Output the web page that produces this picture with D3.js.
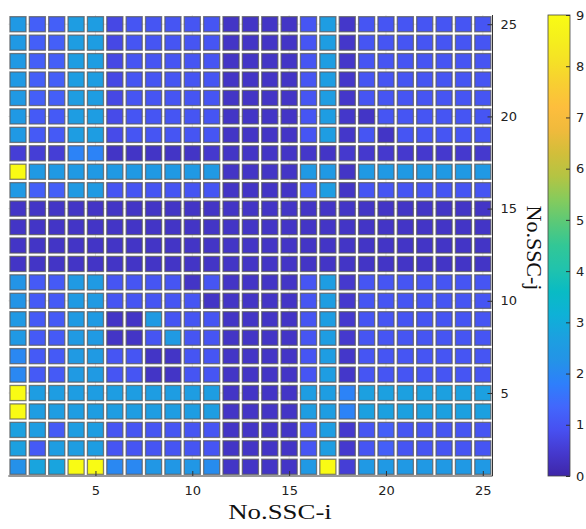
<!DOCTYPE html>
<html>
<head>
<meta charset="utf-8">
<script src="https://cdn.jsdelivr.net/npm/d3@7"></script>
<style>
  body { margin: 0; background: #fff; }
  svg { display: block; }
</style>
</head>
<body>
<div id="chart"></div>
<script>
// grid values, top row (j = 25) first, columns i = 1..25
const rowsTopDown = [
  [2.45,1.2,1.2,2.6,2.6,0.75,1.0,1.0,1.0,1.0,1.0,0.35,0.35,0.35,0.35,1.0,2.6,0.4,1.0,1.0,1.0,1.0,1.0,1.0,1.0],
  [2.45,1.2,1.2,2.6,2.6,0.75,1.0,1.0,1.0,1.0,1.0,0.35,0.35,0.35,0.35,1.0,2.6,0.4,1.0,1.0,1.0,1.0,1.0,1.0,1.0],
  [2.45,1.2,1.2,2.6,2.6,0.75,1.0,1.0,1.0,1.0,1.0,0.35,0.35,0.35,0.35,1.0,2.6,0.4,1.0,1.0,1.0,1.0,1.0,1.0,1.0],
  [2.45,1.2,1.2,2.6,2.6,0.75,1.0,1.0,1.0,1.0,1.0,0.35,0.35,0.35,0.35,1.0,2.6,0.4,1.0,1.0,1.0,1.0,1.0,1.0,1.0],
  [2.45,1.2,1.2,2.6,2.6,0.75,1.0,1.0,1.0,1.0,1.0,0.35,0.35,0.35,0.35,1.0,2.6,0.4,1.0,1.0,1.0,1.0,1.0,1.0,1.0],
  [2.45,1.1,1.1,2.6,2.6,0.8,1.0,1.0,1.0,1.0,1.0,0.35,0.35,0.35,0.35,1.0,2.6,0.4,0.35,1.0,1.0,1.0,1.0,1.0,1.0],
  [2.45,1.1,1.1,2.6,2.6,0.8,1.0,1.0,1.0,1.0,1.0,0.35,0.35,0.35,0.35,1.0,2.6,0.4,1.0,0.35,1.0,1.0,1.0,1.0,1.0],
  [0.55,0.55,0.55,1.9,1.9,0.35,0.35,0.35,0.35,0.35,0.45,0.35,0.35,0.35,0.35,0.4,0.35,0.45,0.45,0.45,0.45,0.45,0.45,0.45,0.45],
  [9,2.45,2.45,2.45,2.45,2.45,2.45,2.45,2.45,2.45,2.45,0.35,0.35,0.35,0.35,2.45,2.45,0.35,2.45,2.45,2.45,2.45,2.45,2.45,2.45],
  [2.45,1.2,1.2,2.5,2.5,1.0,1.0,1.0,1.0,1.0,1.0,0.35,0.35,0.35,0.35,1.0,2.6,0.35,1.0,1.0,1.0,1.0,1.0,1.0,1.0],
  [0.35,0.35,0.35,0.35,0.35,0.35,0.35,0.35,0.35,0.35,0.35,0.35,0.35,0.35,0.35,0.35,0.35,0.35,0.35,0.35,0.35,0.35,0.35,0.35,0.35],
  [0.35,0.35,0.35,0.35,0.35,0.35,0.35,0.35,0.35,0.35,0.35,0.35,0.35,0.35,0.35,0.35,0.35,0.35,0.35,0.35,0.35,0.35,0.35,0.35,0.35],
  [0.35,0.35,0.35,0.35,0.35,0.35,0.35,0.35,0.35,0.35,0.35,0.35,0.35,0.35,0.35,0.35,0.35,0.35,0.35,0.35,0.35,0.35,0.35,0.35,0.35],
  [0.35,0.35,0.35,0.35,0.35,0.35,0.35,0.35,0.35,0.35,0.35,0.35,0.35,0.35,0.35,0.35,0.35,0.35,0.35,0.35,0.35,0.35,0.35,0.35,0.35],
  [2.3,1.1,1.1,2.5,2.5,1.0,1.0,1.0,1.0,0.35,1.0,0.35,0.35,0.35,0.35,1.0,2.6,0.45,1.0,1.0,1.0,1.0,1.0,1.0,1.0],
  [2.3,1.1,1.1,2.5,2.5,1.0,1.0,1.0,1.0,1.0,0.35,0.35,0.35,0.35,0.35,1.0,2.6,0.45,1.0,1.0,1.0,1.0,1.0,1.0,1.0],
  [2.45,1.1,1.1,2.5,2.5,0.35,0.35,2.5,1.0,1.0,1.0,0.35,0.35,0.35,0.35,1.0,2.6,0.45,1.0,1.0,1.0,1.0,1.0,1.0,1.0],
  [2.45,1.1,1.1,2.5,2.5,0.35,0.35,1.0,2.5,1.0,1.0,0.35,0.35,0.35,0.35,1.0,2.6,0.45,1.0,1.0,1.0,1.0,1.0,1.0,1.0],
  [2.0,1.1,1.1,2.5,2.5,1.0,1.0,0.35,0.35,1.0,1.0,0.35,0.35,0.35,0.35,1.0,2.6,0.4,1.0,1.0,1.0,1.0,1.0,1.0,1.0],
  [2.0,1.1,1.1,2.5,2.5,1.0,1.0,0.35,0.35,1.0,1.0,0.35,0.35,0.35,0.35,1.0,2.6,0.4,1.0,1.0,1.0,1.0,1.0,1.0,1.0],
  [9,2.6,2.6,2.6,2.6,2.6,2.6,2.6,2.6,2.6,2.6,0.35,0.35,0.35,0.35,2.6,2.6,1.9,2.7,2.7,2.7,2.7,2.7,2.7,2.7],
  [9,2.6,2.6,2.6,2.6,2.6,2.6,2.6,2.6,2.6,2.6,0.35,0.35,0.35,0.35,2.6,2.6,1.9,2.7,2.7,2.7,2.7,2.7,2.7,2.7],
  [2.7,2.6,1.1,2.6,2.6,1.0,1.0,1.0,1.0,1.0,1.0,0.35,0.35,0.35,0.35,1.0,2.6,0.45,1.0,1.2,1.0,1.0,1.0,1.0,1.0],
  [2.7,1.1,2.6,2.6,2.6,1.0,1.0,1.0,1.0,1.0,1.0,0.35,0.35,0.35,0.35,1.0,2.6,0.45,1.0,1.2,1.0,1.0,1.0,1.0,1.0],
  [2.2,2.8,2.8,9,9,2.0,2.0,2.4,2.4,2.4,2.1,0.35,0.35,0.35,0.35,2.45,9,0.55,2.45,2.45,2.45,2.45,2.45,2.45,2.45]
];

const xTicks = [5, 10, 15, 20, 25];
const yTicks = [5, 10, 15, 20, 25];
const cbTicks = [0, 1, 2, 3, 4, 5, 6, 7, 8, 9];
const xLabel = "No.SSC-i";
const yLabel = "No.SSC-j";

// parula colour stops
const parulaStops = ["#3e26a8", "#4539ce", "#4750f1", "#4267fc", "#2e7ffb", "#2493e7",
  "#1ca0e0", "#0eb1d7", "#09bbc4", "#21c3ac", "#32c796", "#5ac978", "#86cb5c",
  "#b4c443", "#d2be3a", "#f0ba3c", "#fdbe3d", "#f8ce32", "#f5e126", "#f5f01c", "#f9fb14"];

const W = 586, H = 529;
const plot = { left: 8.3, right: 492.5, top: 15, bottom: 476 };
const vmax = 9;

const cells = [];
rowsTopDown.forEach((row, r) => {
  const j = rowsTopDown.length - r;
  row.forEach((v, c) => cells.push({ i: c + 1, j, v }));
});

const color = d3.scaleLinear()
  .domain(parulaStops.map((_, k) => k / (parulaStops.length - 1) * vmax))
  .range(parulaStops)
  .interpolate(d3.interpolateRgb)
  .clamp(true);

const svg = d3.select("#chart").append("svg")
  .attr("width", W)
  .attr("height", H);

svg.append("rect").attr("width", W).attr("height", H).attr("fill", "#fff");

const x = d3.scaleBand()
  .domain(d3.range(1, 26))
  .range([plot.left, plot.right])
  .paddingInner(0.17)
  .paddingOuter(0.085);

const y = d3.scaleBand()
  .domain(d3.range(25, 0, -1))
  .range([plot.top, plot.bottom])
  .paddingInner(0.18)
  .paddingOuter(0.09);

const xc = i => x(i) + x.bandwidth() / 2;
const yc = j => y(j) + y.bandwidth() / 2;

// grid lines
const grid = svg.append("g").attr("stroke", "#e3e3e3").attr("stroke-width", 1);
xTicks.forEach(t => grid.append("line")
  .attr("x1", xc(t)).attr("x2", xc(t))
  .attr("y1", plot.top).attr("y2", plot.bottom));
yTicks.forEach(t => grid.append("line")
  .attr("x1", plot.left).attr("x2", plot.right)
  .attr("y1", yc(t)).attr("y2", yc(t)));

svg.append("g")
  .selectAll("rect")
  .data(cells)
  .enter()
  .append("rect")
  .attr("x", d => x(d.i))
  .attr("y", d => y(d.j))
  .attr("width", x.bandwidth())
  .attr("height", y.bandwidth())
  .attr("fill", d => color(d.v))
  .attr("stroke", "#5a5a5a")
  .attr("stroke-opacity", 0.75)
  .attr("stroke-width", 1.3);

// axes
const tickFont = "DejaVu Sans, sans-serif";
const xScaleLin = d3.scaleLinear().domain([1, 25]).range([xc(1), xc(25)]);
const yScaleLin = d3.scaleLinear().domain([1, 25]).range([yc(1), yc(25)]);

const xAxis = svg.append("g")
  .attr("transform", `translate(0,${plot.bottom})`)
  .call(d3.axisBottom(xScaleLin).tickValues(xTicks).tickSizeInner(-5).tickSizeOuter(0).tickPadding(10));
xAxis.select(".domain").attr("d", `M${plot.left},0H${plot.right}`);

const yAxis = svg.append("g")
  .attr("transform", `translate(${plot.right},0)`)
  .call(d3.axisRight(yScaleLin).tickValues(yTicks).tickSizeInner(-5).tickSizeOuter(0).tickPadding(8));
yAxis.select(".domain").attr("d", `M0,${plot.top}V${plot.bottom}`);

[xAxis, yAxis].forEach(a => {
  a.select(".domain").attr("stroke", "#333").attr("stroke-width", 1);
  a.selectAll(".tick line").attr("stroke", "#333");
  a.selectAll(".tick text")
    .attr("font-family", tickFont)
    .attr("font-size", 13)
    .attr("fill", "#222");
});

// colorbar
const cb = { x: 548, w: 22, top: 15, bottom: 476 };
const cbScale = d3.scaleLinear().domain([0, vmax]).range([cb.bottom, cb.top]);

const grad = svg.append("defs").append("linearGradient")
  .attr("id", "cbgrad")
  .attr("x1", "0%").attr("y1", "100%")
  .attr("x2", "0%").attr("y2", "0%");

parulaStops.forEach((c, k) => {
  grad.append("stop")
    .attr("offset", `${k / (parulaStops.length - 1) * 100}%`)
    .attr("stop-color", c);
});

svg.append("rect")
  .attr("x", cb.x)
  .attr("y", cb.top)
  .attr("width", cb.w)
  .attr("height", cb.bottom - cb.top)
  .attr("fill", "url(#cbgrad)")
  .attr("stroke", "#444")
  .attr("stroke-width", 0.8);

const cbAxis = svg.append("g")
  .attr("transform", `translate(${cb.x + cb.w},0)`)
  .call(d3.axisRight(cbScale).tickValues(cbTicks).tickSizeInner(-4).tickSizeOuter(0).tickPadding(6));
cbAxis.select(".domain").remove();
cbAxis.selectAll(".tick line").attr("stroke", "#333");
cbAxis.selectAll(".tick text")
  .attr("font-family", tickFont)
  .attr("font-size", 13)
  .attr("fill", "#222");

// labels
svg.append("text")
  .attr("transform", "translate(280,519) scale(1.22,1)")
  .attr("text-anchor", "middle")
  .attr("font-family", "Liberation Serif, Times New Roman, serif")
  .attr("font-size", 22)
  .attr("fill", "#111")
  .text(xLabel);

svg.append("text")
  .attr("transform", "translate(527,248) rotate(90)")
  .attr("text-anchor", "middle")
  .attr("font-family", "Liberation Serif, Times New Roman, serif")
  .attr("font-size", 22)
  .attr("fill", "#111")
  .text(yLabel);
</script>
</body>
</html>
